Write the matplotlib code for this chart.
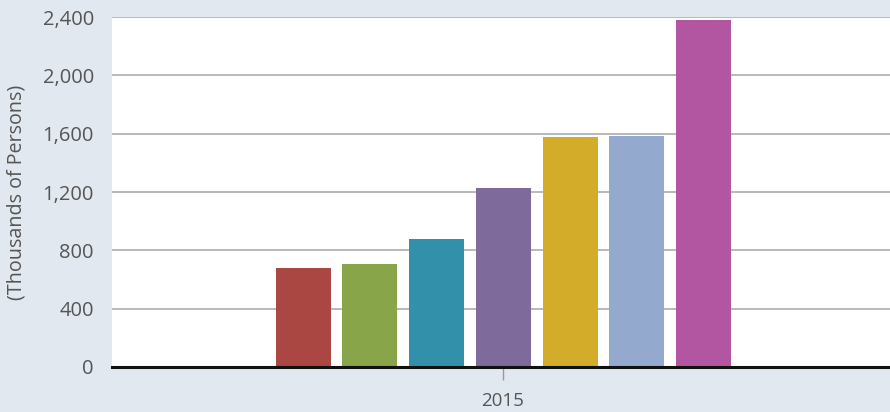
import numpy as np
import matplotlib.pyplot as plt

# Data
category = ['2015']
values = [677, 704, 876, 1225, 1575, 1582, 2377]
colors = ['#ab4743', '#89a54a', '#3290ab', '#7f6b9b', '#d3ac2a', '#94a9ce', '#b256a1']
yticks = [0, 400, 800, 1200, 1600, 2000, 2400]
ytick_labels = ['0', '400', '800', '1,200', '1,600', '2,000', '2,400']

plt.rcParams['font.family'] = ['Open Sans', 'DejaVu Sans']
bg = '#e2e8f0'
txt = '#555555'

fig = plt.figure(figsize=(8.9, 4.12), dpi=100, facecolor=bg)
ax = fig.add_axes([112 / 890, 1 - 367 / 412, 778 / 890, 350 / 412])
ax.set_facecolor('white')

# grouped bars around the single category
n = len(values)
step = 0.0857
width = 0.0707
x = (np.arange(n) - (n - 1) / 2) * step + 0.003
ax.bar(x, values, width=width, color=colors, zorder=2)

ax.set_xlim(-0.5, 0.5)
ax.set_ylim(0, 2400)
ax.set_yticks(yticks)
ax.set_yticklabels(ytick_labels)
ax.set_xticks([0.002])
ax.set_xticklabels(category)

ax.grid(axis='y', color='#b3b3b3', linewidth=1.3, zorder=1)
ax.set_axisbelow(True)
for s in ['top', 'right', 'left']:
    ax.spines[s].set_visible(False)
ax.spines['bottom'].set_color('#111111')
ax.spines['bottom'].set_linewidth(2.2)
ax.spines['bottom'].set_zorder(3)

ax.tick_params(axis='y', length=0, pad=13, labelsize=14.5, labelcolor=txt)
ax.tick_params(axis='x', length=9, width=1, color='#999999', pad=9,
               labelsize=13.5, labelcolor=txt)

ax.set_ylabel('(Thousands of Persons)', fontsize=14.2, color=txt)
ax.yaxis.set_label_coords(-85 / 778, 0.5)

fig.savefig('out.png', dpi=100, facecolor=bg)
